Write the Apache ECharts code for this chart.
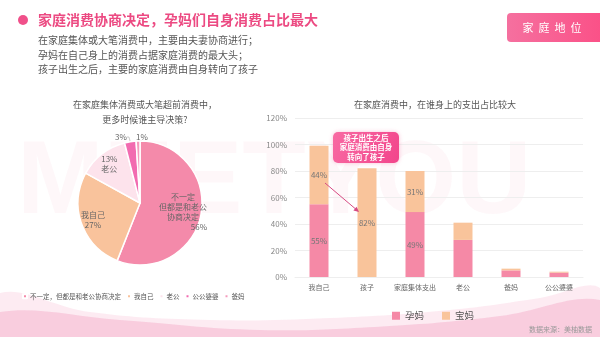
<!DOCTYPE html>
<html>
<head>
<meta charset="utf-8">
<script src="https://cdn.jsdelivr.net/npm/echarts@6/dist/echarts.min.js"></script>
<style>
html,body{margin:0;padding:0;background:#fff;}
#c{width:600px;height:337px;}
</style>
</head>
<body>
<div id="c"></div>
<script>
// ---- data ----
var pieNames = ['不一定，但都是和老公协商决定', '我自己', '老公', '公公婆婆', '爸妈'];
var pieLabels = ['不一定\n但都是和老公\n协商决定', '我自己', '老公', '', ''];
var pieValues = [56, 27, 13, 3, 1];
var pieColors = ['#f48aaa', '#f9c39c', '#fde3ec', '#f26bb0', '#f59bbd'];

var barCategories = ['我自己', '孩子', '家庭集体支出', '老公', '爸妈', '公公婆婆'];
var seriesYunma = [55, 0, 49, 28, 5, 3.3];
var seriesBaoma = [44, 82, 31, 13, 1.3, 0.7];
var barSeriesNames = ['孕妈', '宝妈'];
var yTicks = [0, 20, 40, 60, 80, 100, 120];

var FONT = '"Noto Sans CJK SC", "Noto Sans", sans-serif';
var chart = echarts.init(document.getElementById('c'), null, {renderer: 'canvas'});

var pieData = pieNames.map(function (n, i) {
  return {name: n, value: pieValues[i], itemStyle: {color: pieColors[i]},
    label: {show: i >= 3}, labelLine: {show: i >= 3}};
});
var ghostData = pieNames.map(function (n, i) {
  var txt, pad = 0;
  if (i === 0) { txt = pieLabels[0] + '\n{r|' + pieValues[0] + '%}'; pad = [0, 12, 0, 0]; }
  else if (i === 1) txt = pieLabels[1] + '\n' + pieValues[1] + '%';
  else if (i === 2) txt = pieValues[2] + '%\n' + pieLabels[2];
  else txt = '';
  return {name: n, value: pieValues[i], label: {show: i < 3, formatter: txt, padding: pad}};
});

var option = {
  animation: false,
  textStyle: {fontFamily: FONT},
  title: [
    {text: '在家庭集体消费或大笔超前消费中，\n更多时候谁主导决策?', left: 140, top: 92, textAlign: 'center',
      textStyle: {fontSize: 9, color: '#555', fontWeight: 'normal', lineHeight: 15, fontFamily: FONT}},
    {text: '在家庭消费中，在谁身上的支出占比较大', left: 430, top: 95, textAlign: 'center',
      textStyle: {fontSize: 9, color: '#555', fontWeight: 'normal', fontFamily: FONT}}
  ],
  legend: [
    {data: pieNames, left: 17, top: 288, itemWidth: 4, itemHeight: 4, itemGap: 5, icon: 'rect',
      textStyle: {fontSize: 6.5, color: '#555', fontFamily: FONT, padding: [0, 0, 0, -2]}},
    {data: barSeriesNames, left: 387, top: 306, itemWidth: 8, itemHeight: 8, itemGap: 18, icon: 'rect',
      textStyle: {fontSize: 9.5, color: '#555', fontFamily: FONT}}
  ],
  grid: {left: 295, right: 17, top: 118, bottom: 60},
  xAxis: {type: 'category', data: barCategories,
    axisLine: {show: true, lineStyle: {color: '#eee'}}, axisTick: {show: false},
    axisLabel: {fontSize: 7, color: '#666', margin: 7, interval: 0, fontFamily: FONT}},
  yAxis: {type: 'value', min: yTicks[0], max: yTicks[yTicks.length - 1], interval: 20,
    axisLine: {show: false}, axisTick: {show: false},
    axisLabel: {formatter: '{value}%', fontSize: 8, color: '#888', margin: 8},
    splitLine: {lineStyle: {color: '#eeeeee'}}},
  series: [
    {type: 'pie', name: 'pie', center: [140, 203], radius: [0, 62], startAngle: 90, clockwise: true,
      data: pieData, z: 3,
      itemStyle: {borderColor: '#fff', borderWidth: 1.5},
      label: {position: 'outside', formatter: '{c}%', fontSize: 8, color: '#666', fontFamily: FONT},
      labelLine: {length: 3, length2: 2, lineStyle: {color: '#bbb', width: 0.8}},
      labelLayout: function (p) {
        if (p.dataIndex === 3) return {x: 121, y: 137, align: 'center', verticalAlign: 'middle'};
        if (p.dataIndex === 4) return {x: 142, y: 137, align: 'center', verticalAlign: 'middle'};
        return {};
      }},
    {type: 'pie', name: 'pieLabels', center: [140, 203], radius: [0, 94], startAngle: 90, clockwise: true,
      data: ghostData, silent: true, z: 4,
      itemStyle: {color: 'rgba(0,0,0,0)'},
      label: {position: 'inside', fontSize: 8, color: '#666', lineHeight: 10, fontFamily: FONT,
        rich: {r: {align: 'right', fontSize: 8, color: '#666', lineHeight: 10}}},
      labelLine: {show: false}},
    {type: 'bar', name: barSeriesNames[0], stack: 'a', data: seriesYunma, barWidth: 19,
      itemStyle: {color: '#f589a6'},
      label: {show: true, position: 'inside', fontSize: 8, color: '#777',
        formatter: function (p) { return p.value >= 30 ? p.value + '%' : ''; }}},
    {type: 'bar', name: barSeriesNames[1], stack: 'a', data: seriesBaoma, barWidth: 19,
      itemStyle: {color: '#f9c49b'},
      label: {show: true, position: 'inside', fontSize: 8, color: '#777',
        formatter: function (p) { return p.value >= 30 ? p.value + '%' : ''; }}}
  ],
  graphic: [
    // watermark
    {type: 'text', z: -10, silent: true, style: {text: 'MEETYOU', x: 17, y: 184, verticalAlign: 'middle',
      font: 'bold 104px "Liberation Sans", sans-serif', fill: 'rgba(240,98,146,0.05)'}},
    // bottom waves
    {type: 'polygon', z: -5, silent: true, shape: {smooth: 0.4, points: [[0, 293], [90, 312], [210, 320], [330, 318], [450, 310], [540, 298], [600, 288], [600, 337], [0, 337]]},
      style: {fill: 'rgba(249,205,222,0.4)'}},
    {type: 'polygon', z: -5, silent: true, shape: {smooth: 0.4, points: [[0, 312], [120, 320], [260, 330], [390, 326], [500, 316], [600, 300], [600, 337], [0, 337]]},
      style: {fill: 'rgba(245,176,203,0.5)'}},
    // header
    {type: 'circle', shape: {cx: 23, cy: 20, r: 5}, style: {fill: '#f0508a'}},
    {type: 'text', style: {text: '家庭消费协商决定，孕妈们自身消费占比最大', x: 38, y: 20, verticalAlign: 'middle',
      font: 'bold 14px ' + FONT, fill: '#ec4a82'}},
    {type: 'text', style: {text: '在家庭集体或大笔消费中，主要由夫妻协商进行；\n孕妈在自己身上的消费占据家庭消费的最大头；\n孩子出生之后，主要的家庭消费由自身转向了孩子',
      x: 38, y: 33, lineHeight: 14.5, font: '10px ' + FONT, fill: '#555'}},
    // badge
    {type: 'rect', shape: {x: 507, y: 13, width: 100, height: 29, r: 4},
      style: {fill: new echarts.graphic.LinearGradient(0, 0, 1, 0, [{offset: 0, color: '#f5709f'}, {offset: 1, color: '#fb4f86'}])}},
    {type: 'text', style: {text: '家  庭  地  位', x: 552, y: 28, align: 'center', verticalAlign: 'middle',
      font: '11px ' + FONT, fill: '#fff'}},
    // annotation
    {type: 'rect', z: 20, shape: {x: 333, y: 132, width: 66, height: 31, r: 5},
      style: {fill: new echarts.graphic.LinearGradient(0, 0, 1, 1, [{offset: 0, color: '#f86aa3'}, {offset: 1, color: '#f2458b'}]),
        shadowBlur: 4, shadowColor: 'rgba(240,80,140,0.35)'}},
    {type: 'text', z: 21, style: {text: '孩子出生之后\n家庭消费由自身\n转向了孩子', x: 366, y: 147.5, align: 'center', verticalAlign: 'middle',
      lineHeight: 9.5, font: 'bold 7.5px ' + FONT, fill: '#fff'}},
    {type: 'line', z: 20, shape: {x1: 325, y1: 183, x2: 358, y2: 211}, style: {stroke: '#d64b83', lineWidth: 1}},
    {type: 'polygon', z: 20, shape: {points: [[359, 212], [353.4, 210.6], [356.6, 206.8]]}, style: {fill: '#d64b83'}},
    // source
    {type: 'text', style: {text: '数据来源：美柚数据', x: 592, y: 329, align: 'right', verticalAlign: 'middle',
      font: '7px ' + FONT, fill: '#999'}}
  ]
};
chart.setOption(option);
</script>
</body>
</html>
